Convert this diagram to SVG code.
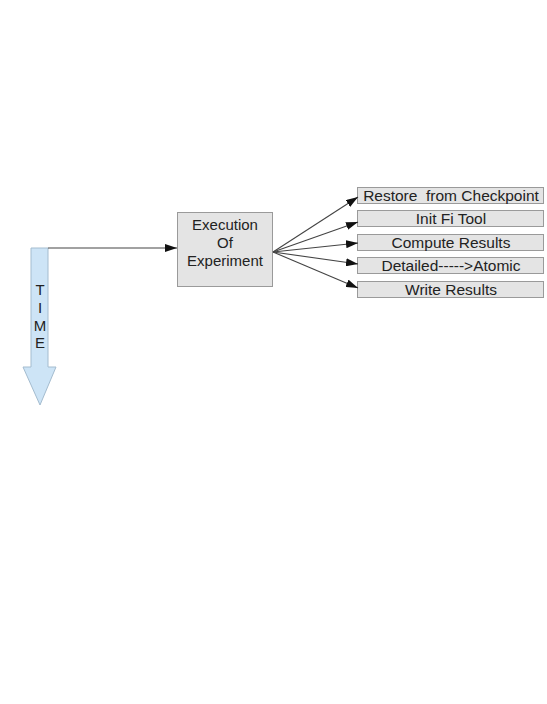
<svg xmlns="http://www.w3.org/2000/svg" width="547" height="704" viewBox="0 0 547 704">
  <defs>
    <style>
      .box { fill: #e4e4e4; stroke: #9a9a9a; stroke-width: 1; }
      .lbl { font-family: "Liberation Sans", Arial, sans-serif; font-size: 15px; fill: #222; text-anchor: middle; }
      .small { font-size: 15.5px; }
      .edge { fill: none; stroke: #444; stroke-width: 1.1; }
    </style>
    <marker id="head" viewBox="0 0 12 8" refX="12" refY="4" markerWidth="12" markerHeight="8" markerUnits="userSpaceOnUse" orient="auto">
      <path d="M0,0 L12,4 L0,8 Z" fill="#111"/>
    </marker>
  </defs>
  <rect width="547" height="704" fill="#ffffff"/>

  <!-- time axis -->
  <g id="time">
    <path d="M31,248 L48,248 L48,367 L56,367 L40,405 L23,367 L31,367 Z" fill="#cde4f6" stroke="#a4bccf" stroke-width="1"/>
    <g class="lbl" font-size="14">
      <text x="40" y="295">T</text>
      <text x="40" y="313">I</text>
      <text x="40" y="331">M</text>
      <text x="40" y="348">E</text>
    </g>
  </g>

  <g id="execution">
    <rect class="box" x="177.5" y="212.5" width="95" height="74"/>
    <text class="lbl" x="225" y="230">Execution</text>
    <text class="lbl" x="225" y="248">Of</text>
    <text class="lbl" x="225" y="266">Experiment</text>
  </g>

  <g id="restore">
    <rect class="box" x="357.5" y="187.5" width="186" height="16"/>
    <text class="lbl small" x="451" y="201" xml:space="preserve">Restore  from Checkpoint</text>
  </g>
  <g id="init">
    <rect class="box" x="357.5" y="210.5" width="186" height="16"/>
    <text class="lbl small" x="451" y="224">Init Fi Tool</text>
  </g>
  <g id="compute">
    <rect class="box" x="357.5" y="234.5" width="186" height="16"/>
    <text class="lbl small" x="451" y="248">Compute Results</text>
  </g>
  <g id="detailed">
    <rect class="box" x="357.5" y="257.5" width="186" height="16"/>
    <text class="lbl small" x="451" y="271">Detailed-----&gt;Atomic</text>
  </g>
  <g id="write">
    <rect class="box" x="357.5" y="281.5" width="186" height="16"/>
    <text class="lbl small" x="451" y="295">Write Results</text>
  </g>

  <g id="connectors">
    <path class="edge" d="M48,248 L177,248" marker-end="url(#head)"/>
    <path class="edge" d="M273,252 L358,197" marker-end="url(#head)"/>
    <path class="edge" d="M273,252 L358,222" marker-end="url(#head)"/>
    <path class="edge" d="M273,252 L358,243" marker-end="url(#head)"/>
    <path class="edge" d="M273,252 L358,264" marker-end="url(#head)"/>
    <path class="edge" d="M273,252 L358,288" marker-end="url(#head)"/>
  </g>
</svg>
